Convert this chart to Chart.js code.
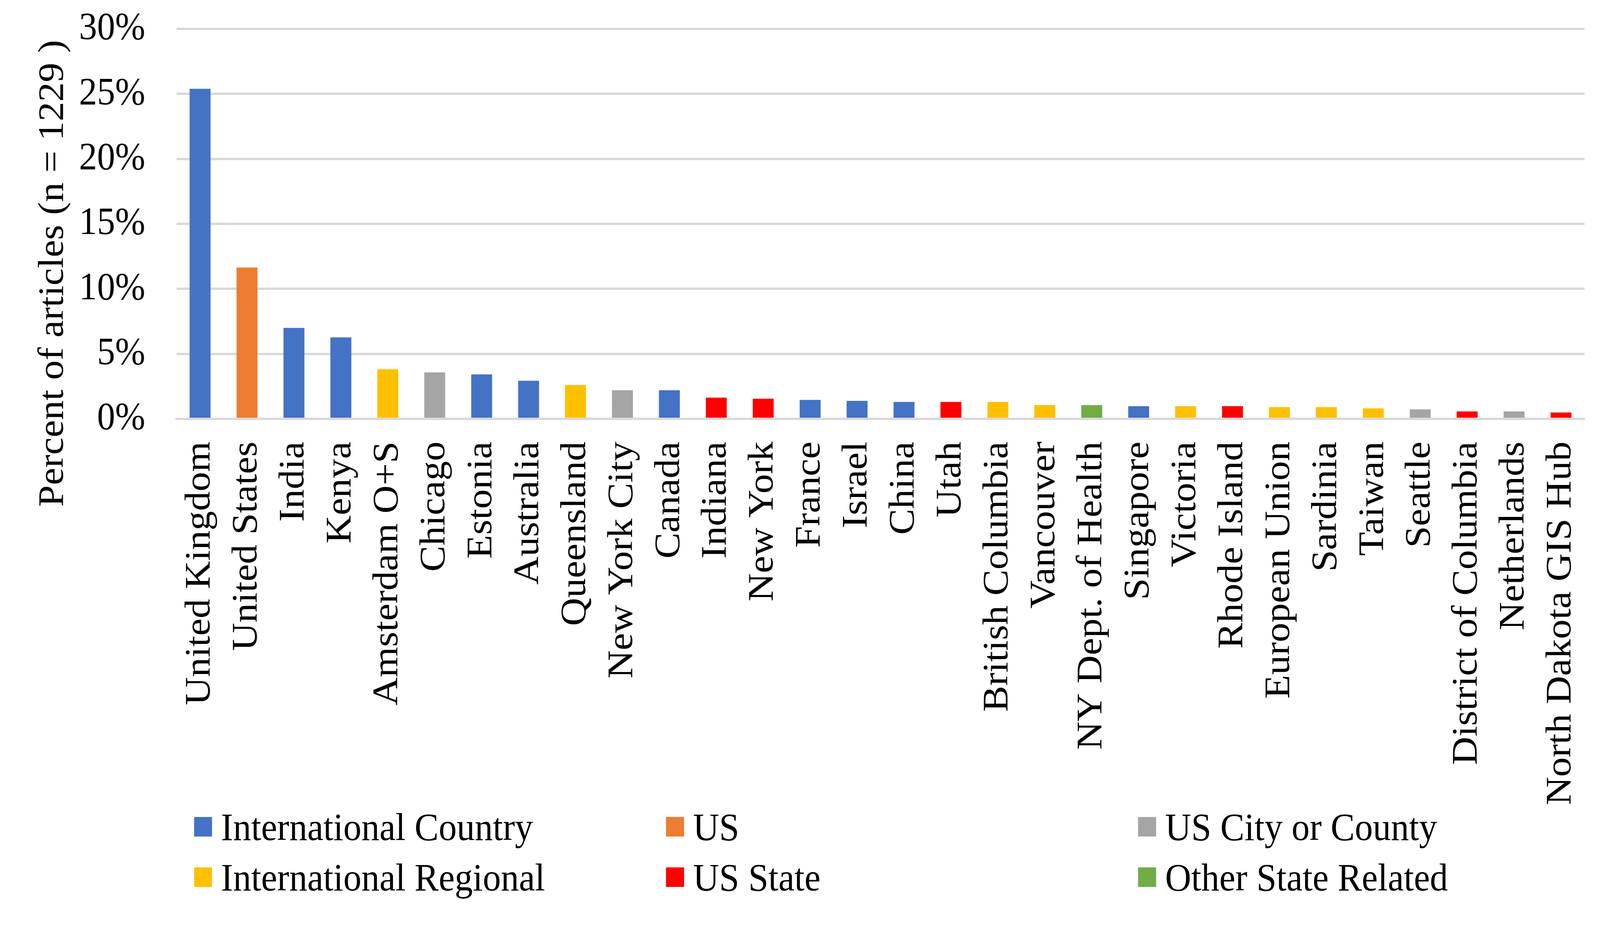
<!DOCTYPE html>
<html>
<head>
<meta charset="utf-8">
<script src="https://cdn.jsdelivr.net/npm/chart.js@4"></script>
<style>
  html, body { margin: 0; padding: 0; background: #ffffff; overflow: hidden; }
  #wrap { position: absolute; left: 0; top: 0; width: 4430px; height: 2370px; transform-origin: 0 0; }
  #chart { position: absolute; left: 0; top: 0; }
  .lg { position: absolute; display: flex; align-items: center; height: 50px;
        font-family: "Liberation Serif", "Times New Roman", serif; font-size: 100px; color: #000; white-space: nowrap; }
  .lg span.box { display: inline-block; width: 50px; height: 50px; margin-right: 25px; flex: none; }
</style>
</head>
<body>
<div id="wrap">
  <canvas id="chart" width="4430" height="2370" style="width:4430px;height:2370px"></canvas>
  <div id="legend"></div>
</div>
<script>
// ---- data ----
const categories = ["United Kingdom", "United States", "India", "Kenya", "Amsterdam O+S", "Chicago",
  "Estonia", "Australia", "Queensland", "New York City", "Canada", "Indiana", "New York", "France",
  "Israel", "China", "Utah", "British Columbia", "Vancouver", "NY Dept. of Health", "Singapore",
  "Victoria", "Rhode Island", "European Union", "Sardinia", "Taiwan", "Seattle",
  "District of Columbia", "Netherlands", "North Dakota GIS Hub"];
const percentValues = [25.39, 11.64, 7.00, 6.27, 3.82, 3.58, 3.42, 2.93, 2.60, 2.20, 2.20, 1.63,
  1.55, 1.46, 1.38, 1.30, 1.30, 1.30, 1.06, 1.06, 0.98, 0.98, 0.98, 0.90, 0.90, 0.81, 0.73,
  0.57, 0.57, 0.49];
const categoryGroup = [0, 1, 0, 0, 3, 2, 0, 0, 3, 2, 0, 4, 4, 0, 0, 0, 4, 3, 3, 5, 0, 3, 4, 3, 3,
  3, 2, 4, 2, 4];
const groupNames = ["International Country", "US", "US City or County",
  "International Regional", "US State", "Other State Related"];
const groupColors = ["#4472C4", "#ED7D31", "#A5A5A5", "#FFC000", "#FF0000", "#70AD47"];
const yTicks = [0, 5, 10, 15, 20, 25, 30];
const yTitle = "Percent of articles (n = 1229 )";

// fit the 4430x2370 design to whatever viewport we get
const vw = window.innerWidth, vh = window.innerHeight;
document.getElementById('wrap').style.transform = 'scale(' + (vw / 4430) + ',' + (vh / 2370) + ')';

// ---- legend (HTML, 3 columns x 2 rows) ----
const legendCols = [537, 1844, 3151];
const legendRows = [2091, 2220];
const legendEl = document.getElementById('legend');
groupNames.forEach((name, i) => {
  const d = document.createElement('div');
  d.className = 'lg';
  d.style.left = legendCols[i % 3] + 'px';
  d.style.top = legendRows[Math.floor(i / 3)] + 'px';
  const b = document.createElement('span');
  b.className = 'box';
  b.style.background = groupColors[i];
  d.appendChild(b);
  d.appendChild(document.createTextNode(name));
  legendEl.appendChild(d);
});

const FONT = { family: '"Liberation Serif", "Times New Roman", serif', size: 100 };

const yTitlePlugin = {
  id: 'yTitlePlugin',
  afterDraw(chart) {
    const ctx = chart.ctx;
    const area = chart.chartArea;
    ctx.save();
    ctx.font = '100px "Liberation Serif", "Times New Roman", serif';
    ctx.fillStyle = '#000';
    ctx.textAlign = 'center';
    ctx.textBaseline = 'alphabetic';
    const cy = area.top + (area.bottom - area.top) * 0.627;
    ctx.translate(174, cy);
    ctx.rotate(-Math.PI / 2);
    ctx.fillText(yTitle, 0, 0);
    ctx.restore();
  }
};

new Chart(document.getElementById('chart'), {
  type: 'bar',
  data: {
    labels: categories,
    datasets: [{
      data: percentValues,
      backgroundColor: categoryGroup.map(g => groupColors[g]),
      borderWidth: 0,
      categoryPercentage: 1.0,
      barPercentage: 0.446
    }]
  },
  options: {
    responsive: false,
    animation: false,
    devicePixelRatio: 1,
    layout: { padding: { left: 0, right: 43, top: 74, bottom: 0 } },
    plugins: { legend: { display: false }, tooltip: { enabled: false } },
    scales: {
      x: {
        grid: { display: false, drawTicks: false },
        border: { display: true, color: '#D9D9D9', width: 6, z: 1 },
        ticks: { font: FONT, color: '#000', minRotation: 90, maxRotation: 90, autoSkip: false, padding: 58 },
        afterFit(s) { s.height = 2370 - 1072; s.paddingLeft = 0; s.paddingRight = 0; }
      },
      y: {
        min: 0, max: 30,
        afterBuildTicks(s) { s.ticks = yTicks.map(v => ({ value: v })); },
        ticks: { font: FONT, color: '#000', padding: 87, callback: v => v + '%' },
        grid: { color: '#D9D9D9', lineWidth: 6, drawTicks: false },
        border: { display: false },
        afterFit(s) { s.width = 489; s.paddingTop = 0; s.paddingBottom = 0; }
      }
    }
  },
  plugins: [yTitlePlugin]
});
</script>
</body>
</html>
